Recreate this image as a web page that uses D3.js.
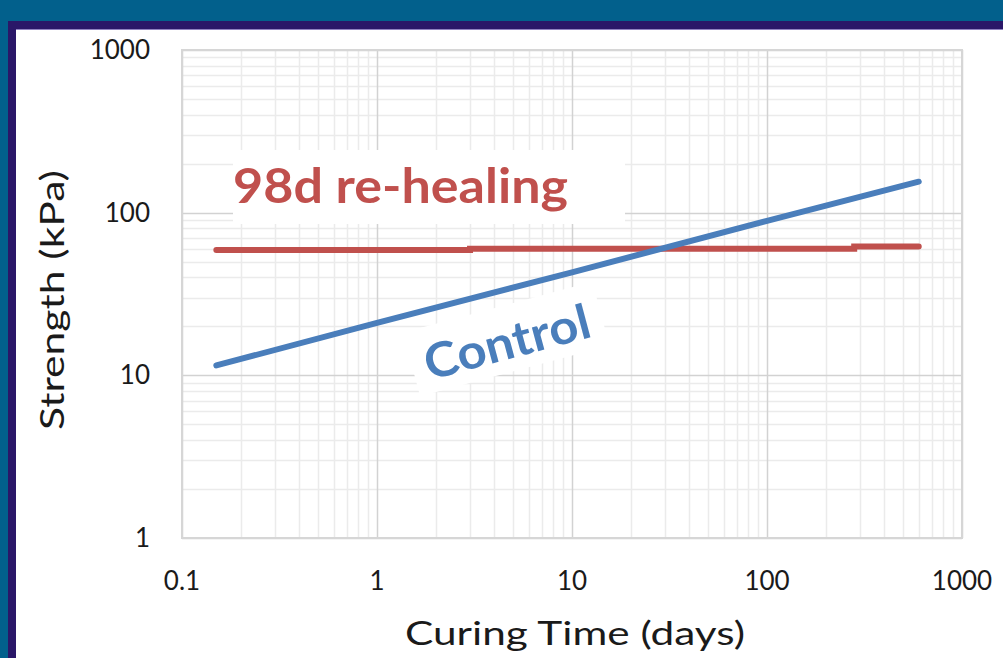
<!DOCTYPE html>
<html>
<head>
<meta charset="utf-8">
<script src="https://cdn.jsdelivr.net/npm/d3@7"></script>
<style>
  body { margin: 0; background: #02608c; }
  svg { display: block; }
  text { font-family: Lato, "Open Sans", sans-serif; }
</style>
</head>
<body>
<script>
// waarden (dagen, kPa)
var controlDays = [0.15, 1, 10, 100, 600];
var controlStrength = [11.5, 21, 43, 89, 155];

var rehealDays = [0.15, 3, 3, 280, 280, 600];
var rehealStrength = [59, 59, 60, 60, 62, 62];

var xTicks = [0.1, 1, 10, 100, 1000];
var yTicks = [1, 10, 100, 1000];

var W = 1003, H = 658;
var margin = {top: 50, left: 182, right: 41, bottom: 120};
var width = W - margin.left - margin.right,   // 780
    height = H - margin.top - margin.bottom;  // 488

var svg = d3.select("body").append("svg")
    .attr("width", W)
    .attr("height", H);

// achtergrond: blauwe band, donkere rand, wit vlak
svg.append("rect").attr("width", W).attr("height", H).attr("fill", "#02608c");
svg.append("rect").attr("x", 8).attr("y", 21).attr("width", W - 8).attr("height", H - 21).attr("fill", "#2a1768");
svg.append("rect").attr("x", 16).attr("y", 29).attr("width", W - 16).attr("height", H - 29).attr("fill", "#fff");
svg.append("line").attr("x1", 16).attr("x2", W).attr("y1", 29.5).attr("y2", 29.5)
    .attr("stroke", "#8f82c0").attr("stroke-width", 1);

var g = svg.append("g")
    .attr("transform", "translate(" + margin.left + "," + margin.top + ")");

var x = d3.scaleLog().domain([0.1, 1000]).range([0, width]);
var y = d3.scaleLog().domain([1, 1000]).range([height, 0]);

// kleine rasterlijnen (2..9 per decade)
function minors(ticks) {
  var out = [];
  for (var i = 0; i < ticks.length - 1; i++) {
    for (var k = 2; k <= 9; k++) out.push(ticks[i] * k);
  }
  return out;
}

g.selectAll(".xminor").data(minors(xTicks)).enter().append("line")
    .attr("x1", function(d) { return Math.round(x(d)) + 0.5; })
    .attr("x2", function(d) { return Math.round(x(d)) + 0.5; })
    .attr("y1", 0).attr("y2", height)
    .attr("stroke", "#ebebeb").attr("stroke-width", 1.5);

g.selectAll(".yminor").data(minors(yTicks)).enter().append("line")
    .attr("y1", function(d) { return Math.round(y(d)) + 0.5; })
    .attr("y2", function(d) { return Math.round(y(d)) + 0.5; })
    .attr("x1", 0).attr("x2", width)
    .attr("stroke", "#ebebeb").attr("stroke-width", 1.5);

g.selectAll(".xmajor").data(xTicks).enter().append("line")
    .attr("x1", function(d) { return Math.round(x(d)) + 0.5; })
    .attr("x2", function(d) { return Math.round(x(d)) + 0.5; })
    .attr("y1", 0).attr("y2", height)
    .attr("stroke", "#d2d2d2").attr("stroke-width", 1.5);

g.selectAll(".ymajor").data(yTicks).enter().append("line")
    .attr("y1", function(d) { return Math.round(y(d)) + 0.5; })
    .attr("y2", function(d) { return Math.round(y(d)) + 0.5; })
    .attr("x1", 0).attr("x2", width)
    .attr("stroke", "#d2d2d2").attr("stroke-width", 1.5);

g.append("rect")
    .attr("width", width).attr("height", height)
    .attr("fill", "none").attr("stroke", "#d6d6d6").attr("stroke-width", 2);

// witte label-vakken over het raster heen
g.append("rect")
    .attr("x", 51).attr("y", 100).attr("width", 392).attr("height", 74)
    .attr("fill", "#fff");

// lijnen
var line = d3.line()
    .x(function(d) { return x(d[0]); })
    .y(function(d) { return y(d[1]); });

var rehealData = d3.zip(rehealDays, rehealStrength);
var controlData = d3.zip(controlDays, controlStrength);

g.append("path").datum(rehealData)
    .attr("d", line).attr("fill", "none")
    .attr("stroke", "#c0504d").attr("stroke-width", 6).attr("stroke-linecap", "round");

// control label met wit vak, gedraaid mee met de lijn
var ctl = g.append("g").attr("transform", "translate(325,292) rotate(-15)");
ctl.append("rect")
    .attr("x", -98).attr("y", -36).attr("width", 196).attr("height", 66)
    .attr("fill", "#fff");

g.append("path").datum(controlData)
    .attr("d", line).attr("fill", "none")
    .attr("stroke", "#4a7ebb").attr("stroke-width", 6).attr("stroke-linecap", "round");

ctl.append("text")
    .attr("x", 0).attr("y", 17)
    .attr("text-anchor", "middle")
    .attr("textLength", 170).attr("lengthAdjust", "spacingAndGlyphs")
    .style("font-size", "48px").style("font-weight", "bold")
    .attr("fill", "#4a7ebb")
    .text("Control");

g.append("text")
    .attr("x", 51).attr("y", 153)
    .attr("textLength", 335).attr("lengthAdjust", "spacingAndGlyphs")
    .style("font-size", "48px").style("font-weight", "bold")
    .attr("fill", "#c0504d")
    .text("98d re-healing");

// as-labels
g.selectAll(".ylab").data(yTicks).enter().append("text")
    .attr("x", -32).attr("y", function(d) { return y(d); })
    .attr("dy", "0.35em")
    .attr("text-anchor", "end")
    .style("font-size", "26px").attr("fill", "#1a1a1a")
    .text(function(d) { return d; });

g.selectAll(".xlab").data(xTicks).enter().append("text")
    .attr("x", function(d) { return x(d); }).attr("y", height + 52)
    .attr("text-anchor", "middle")
    .style("font-size", "26px").attr("fill", "#1a1a1a")
    .text(function(d) { return d; });

svg.append("text")
    .attr("x", 575).attr("y", 645)
    .attr("text-anchor", "middle")
    .attr("textLength", 340).attr("lengthAdjust", "spacingAndGlyphs")
    .style("font-size", "32px").attr("fill", "#1a1a1a")
    .text("Curing Time (days)");

svg.append("text")
    .attr("transform", "translate(64,300) rotate(-90)")
    .attr("text-anchor", "middle")
    .attr("textLength", 260).attr("lengthAdjust", "spacingAndGlyphs")
    .style("font-size", "32px").attr("fill", "#1a1a1a")
    .text("Strength (kPa)");
</script>
</body>
</html>
